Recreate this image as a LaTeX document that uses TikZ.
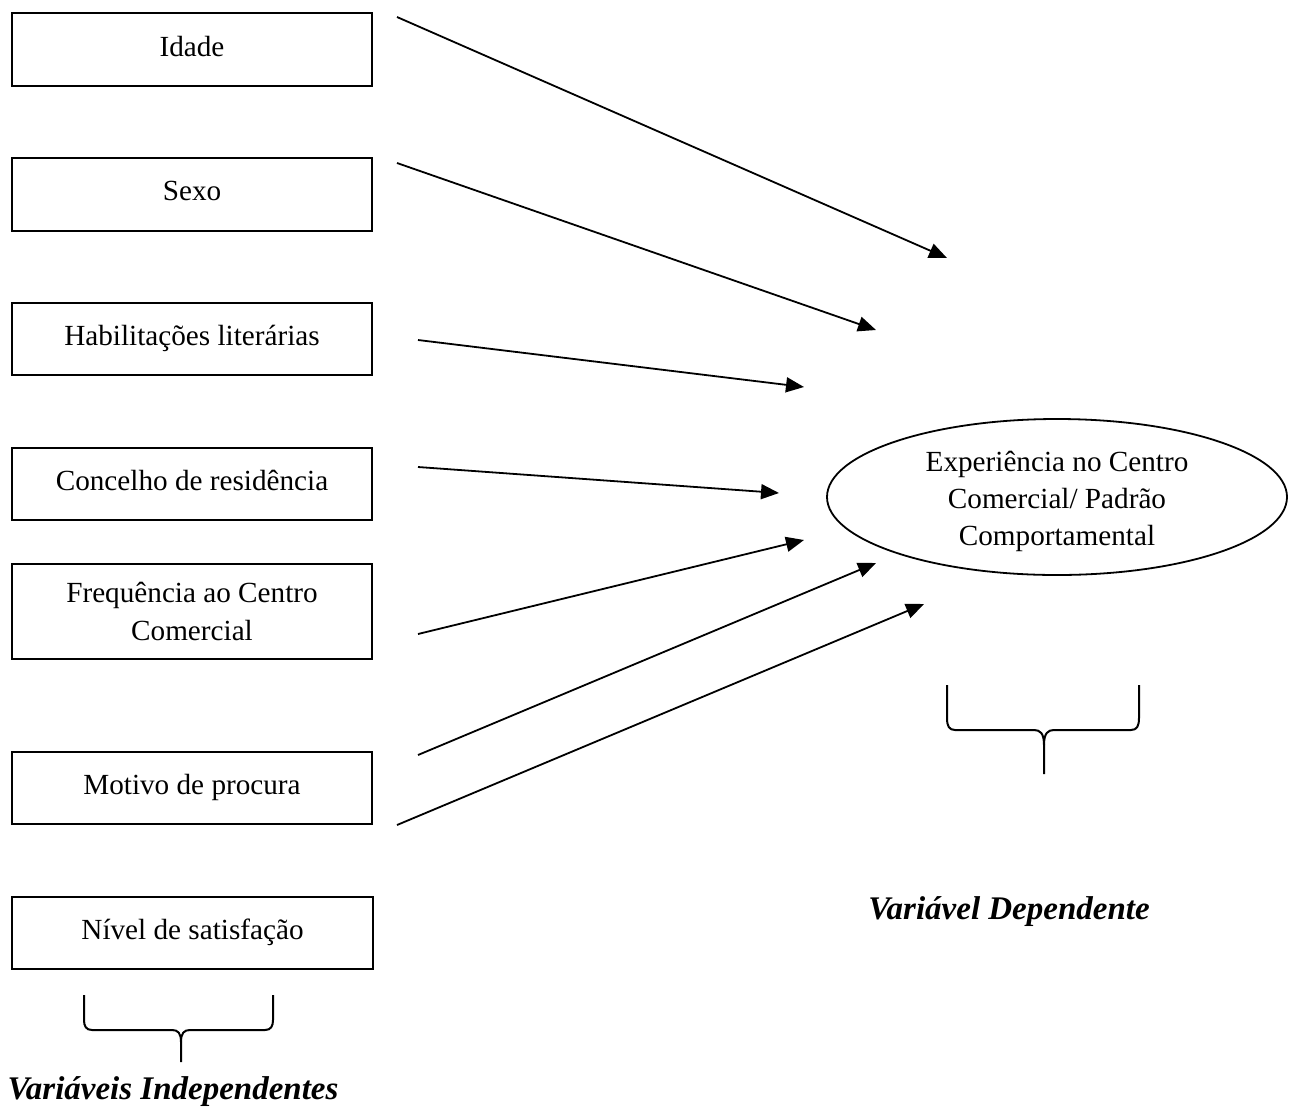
\documentclass[tikz,border=0pt]{standalone}
\usepackage{fontspec}
\setmainfont{Liberation Serif}
\usetikzlibrary{arrows.meta,shapes.geometric}
\begin{document}
\begin{tikzpicture}[x=1pt,y=-1pt,
  box/.style={draw,line width=2pt,minimum width=360pt,inner sep=0pt,align=center,font=\fontsize{29.2}{38}\selectfont},
  conn/.style={line width=1.8pt,-{Triangle[length=18pt,width=15pt]}},
  brace/.style={line width=2pt,line join=round},
  lbl/.style={font=\fontsize{33}{38}\selectfont\bfseries\itshape}]
\useasboundingbox (0,0) rectangle (1290,1109);
\node[box,minimum height=73pt] (idade) at (192,49.5) {\raisebox{7pt}{Idade}};
\node[box,minimum height=73pt] (sexo) at (192,194.5) {\raisebox{7pt}{Sexo}};
\node[box,minimum height=72pt] (hab) at (192,339) {\raisebox{7pt}{Habilitações literárias}};
\node[box,minimum height=72pt] (conc) at (192,484) {\raisebox{7pt}{Concelho de residência}};
\node[box,minimum height=95pt] (freq) at (192,611.5) {Frequência ao Centro\\Comercial};
\node[box,minimum height=72pt] (mot) at (192,788) {\raisebox{7pt}{Motivo de procura}};
\node[box,minimum height=72pt,minimum width=361pt] (niv) at (192.5,933) {\raisebox{7pt}{Nível de satisfação}};
\node[draw,ellipse,line width=1.8pt,minimum width=460pt,minimum height=156pt,inner sep=0pt] (exp) at (1057,497) {};
\node[align=center,font=\fontsize{29.2}{37}\selectfont] (exptxt) at (1057,501) {Experiência no Centro\\Comercial/ Padrão\\Comportamental};
\coordinate (s1) at (397,17);  \coordinate (t1) at (947,258);
\coordinate (s2) at (397,163); \coordinate (t2) at (876,330);
\coordinate (s3) at (418,340); \coordinate (t3) at (804,387);
\coordinate (s4) at (418,467); \coordinate (t4) at (779,493);
\coordinate (s5) at (418,634); \coordinate (t5) at (804,540);
\coordinate (s6) at (418,755); \coordinate (t6) at (876,563);
\coordinate (s7) at (397,825); \coordinate (t7) at (924,604);
\foreach \i in {1,...,7}{\draw[conn] (s\i) -- (t\i);}
% right brace
\draw[brace] (947,685) -- (947,718) .. controls (947,726) and (949,730) .. (955,730) -- (1034,730)
  .. controls (1040,730) and (1044,733) .. (1044,745) -- (1044,774);
\draw[brace] (1139,685) -- (1139,718) .. controls (1139,726) and (1137,730) .. (1131,730) -- (1054,730)
  .. controls (1048,730) and (1044,733) .. (1044,745);
% left brace
\draw[brace] (84,995) -- (84,1020) .. controls (84,1026) and (86,1030) .. (92,1030) -- (172,1030)
  .. controls (178,1030) and (181,1033) .. (181,1042) -- (181,1062);
\draw[brace] (273,995) -- (273,1020) .. controls (273,1026) and (271,1030) .. (265,1030) -- (190,1030)
  .. controls (184,1030) and (181,1033) .. (181,1042);
\node[lbl] (vi) at (173,1092) {Variáveis Independentes};
\node[lbl] (vd) at (1009,912) {Variável Dependente};
\end{tikzpicture}
\end{document}
